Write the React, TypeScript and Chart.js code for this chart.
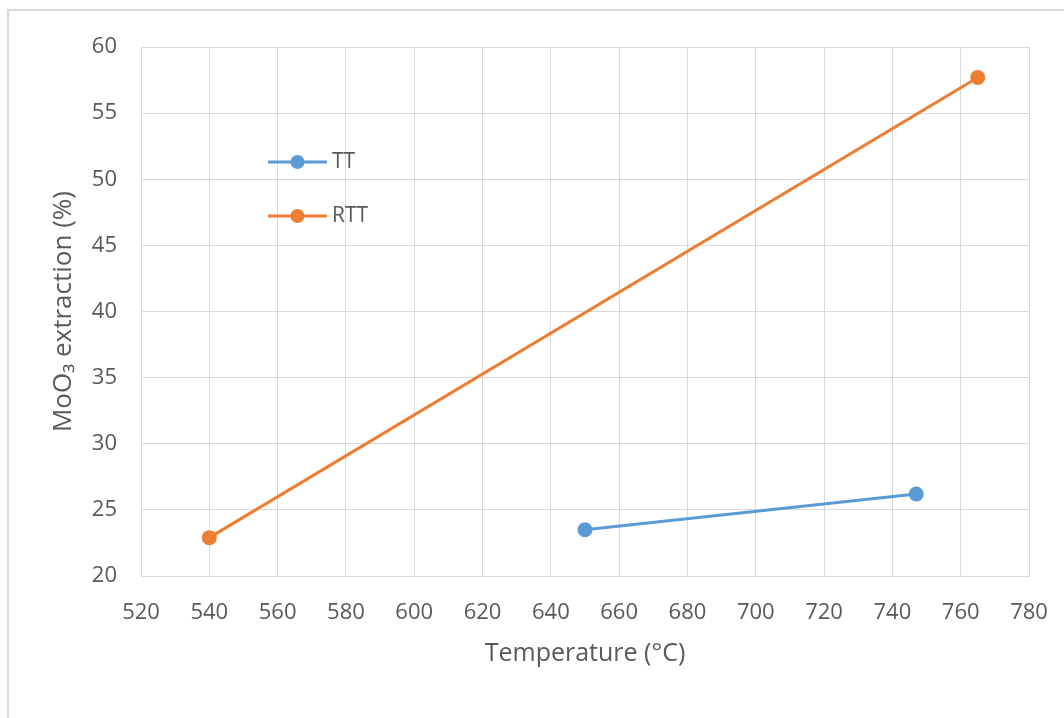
import React, { useEffect, useRef } from "react";
import { Chart, registerables } from "chart.js";

Chart.register(...registerables);

const seriesNames = ["TT", "RTT"];
const seriesColors = ["#5B9BD5", "#ED7D31"];
const ttTemps = [650, 747];
const ttValues = [23.5, 26.2];
const rttTemps = [540, 765];
const rttValues = [22.9, 57.7];
const xMin = 520;
const xMax = 780;
const xStep = 20;
const yMin = 20;
const yMax = 60;
const yStep = 5;
const xTitle = "Temperature (°C)";
const yTitle = "MoO₃ extraction (%)";

const FONT = "'Open Sans', 'Noto Sans', sans-serif";
const TEXT = "#595959";
const GRID = "#d9d9d9";

const legendPlugin = {
  id: "customLegend",
  afterDraw(chart: any) {
    const { ctx, chartArea } = chart;
    const ds = chart.data.datasets;
    ctx.save();
    ds.forEach((d: any, i: number) => {
      const y = chartArea.top + 115 + i * 54;
      const x0 = chartArea.left + 127;
      const x1 = chartArea.left + 186;
      ctx.strokeStyle = d.borderColor;
      ctx.lineWidth = 3;
      ctx.beginPath();
      ctx.moveTo(x0, y);
      ctx.lineTo(x1, y);
      ctx.stroke();
      ctx.fillStyle = d.backgroundColor;
      ctx.beginPath();
      ctx.arc((x0 + x1) / 2, y, 7, 0, Math.PI * 2);
      ctx.fill();
      ctx.fillStyle = TEXT;
      ctx.font = `21px ${FONT}`;
      ctx.textBaseline = "middle";
      ctx.textAlign = "left";
      ctx.fillText(d.label, x1 + 5, y);
    });
    ctx.restore();
  },
};

const framePlugin = {
  id: "frame",
  beforeDraw(chart: any) {
    const { ctx, width, height } = chart;
    ctx.save();
    ctx.fillStyle = "#ffffff";
    ctx.fillRect(0, 0, width, height);
    ctx.strokeStyle = "#d9d9d9";
    ctx.lineWidth = 2;
    ctx.strokeRect(8, 10, width + 100, height + 100);
    ctx.restore();
  },
};

export default function App() {
  const ref = useRef<HTMLCanvasElement>(null);
  useEffect(() => {
    if (!ref.current) return;
    const mk = (xs: number[], ys: number[]) => xs.map((x, i) => ({ x, y: ys[i] }));
    const chart = new Chart(ref.current, {
      type: "line",
      data: {
        datasets: [
          {
            label: seriesNames[0],
            data: mk(ttTemps, ttValues),
            borderColor: seriesColors[0],
            backgroundColor: seriesColors[0],
            borderWidth: 3,
            pointRadius: 7.5,
            pointBorderWidth: 0,
            tension: 0,
          },
          {
            label: seriesNames[1],
            data: mk(rttTemps, rttValues),
            borderColor: seriesColors[1],
            backgroundColor: seriesColors[1],
            borderWidth: 3,
            pointRadius: 7.5,
            pointBorderWidth: 0,
            tension: 0,
          },
        ],
      },
      options: {
        responsive: false,
        animation: false,
        layout: { padding: { left: 0, right: 35, top: 47, bottom: 0 } },
        plugins: { legend: { display: false }, tooltip: { enabled: false } },
        scales: {
          x: {
            type: "linear",
            min: xMin,
            max: xMax,
            ticks: { stepSize: xStep, padding: 24, color: TEXT, font: { family: FONT, size: 22 } },
            grid: { color: GRID, drawTicks: false, lineWidth: 1 },
            border: { color: GRID, width: 1 },
            title: {
              display: true,
              text: xTitle,
              color: TEXT,
              font: { family: FONT, size: 25 },
              padding: { top: 0, bottom: 49 },
            },
            afterFit: (s: any) => {
              s.height = 142;
              s.paddingLeft = 0;
              s.paddingRight = 0;
            },
          },
          y: {
            type: "linear",
            min: yMin,
            max: yMax,
            ticks: { stepSize: yStep, padding: 24, color: TEXT, font: { family: FONT, size: 22 } },
            grid: { color: GRID, drawTicks: false, lineWidth: 1 },
            border: { color: GRID, width: 1 },
            title: {
              display: true,
              text: yTitle,
              color: TEXT,
              font: { family: FONT, size: 26 },
              padding: { top: 48, bottom: 0 },
            },
            afterFit: (s: any) => {
              s.width = 141;
              s.paddingTop = 0;
              s.paddingBottom = 0;
            },
          },
        },
      },
      plugins: [framePlugin, legendPlugin],
    });
    return () => chart.destroy();
  }, []);
  return (
    <div style={{ position: "absolute", left: 0, top: 0, width: 1064, height: 718, overflow: "hidden" }}>
      <canvas ref={ref} width={1064} height={718} style={{ display: "block" }} />
    </div>
  );
}
